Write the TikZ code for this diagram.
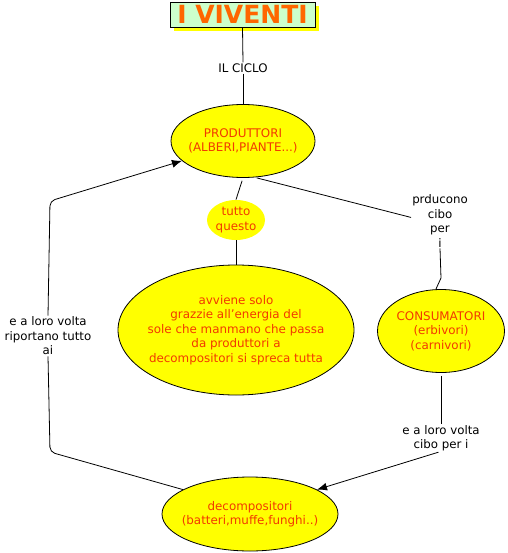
\documentclass[tikz,border=0pt]{standalone}
\usepackage{fontspec}
\setmainfont{DejaVu Sans}
\usetikzlibrary{arrows.meta,shapes.geometric}
\definecolor{ytxt}{HTML}{F23A00}
\definecolor{ttxt}{HTML}{FF6600}
\definecolor{tfill}{HTML}{CCFFCC}
\definecolor{yfill}{HTML}{FFFF00}
\tikzset{
  ell/.style={ellipse,draw=black,line width=0.8pt,fill=yfill,text=ytxt,align=center,inner ysep=0pt,inner xsep=-14pt,font=\fontsize{11.9}{14.5}\selectfont},
  lbl/.style={align=center,inner sep=1pt,font=\fontsize{11.8}{14.5}\selectfont},
  conn/.style={draw=black,line width=0.8pt},
  arr/.style={conn,-{Latex[length=10pt,width=8pt]}}
}
\begin{document}
\begin{tikzpicture}[x=1pt,y=-1pt]
\useasboundingbox (0,0) rectangle (507,553);
% title
\fill[yfill] (174,6) rectangle (319,31);
\node[draw=black,line width=0.8pt,fill=tfill,text=ttxt,minimum width=145pt,minimum height=25pt,inner sep=0pt,font=\fontsize{25}{27}\bfseries\selectfont] (t) at (242.5,14.5) {I VIVENTI};
% nodes
\node[lbl] (ciclo) at (243,68) {IL CICLO};
\node[ell,minimum width=144pt,minimum height=73pt] (prod) at (243,141) {PRODUTTORI\\(ALBERI,PIANTE...)};
\node[ell,draw=none,minimum width=58pt,minimum height=40pt] (tutto) at (236,220) {tutto\\questo};
\node[ell,minimum width=236pt,minimum height=130pt] (big) at (236,330) {avviene solo\\grazzie all'energia del\\sole che manmano che passa\\da produttori a\\decompositori si spreca tutta};
\node[lbl] (prd) at (440,221) {prducono\\cibo\\per\\i};
\node[ell,minimum width=127pt,minimum height=83pt] (cons) at (441,331) {CONSUMATORI\\(erbivori)\\(carnivori)};
\node[lbl] (ealv) at (441,438) {e a loro volta\\cibo per i};
\node[ell,minimum width=176pt,minimum height=74pt] (dec) at (250,514) {decompositori\\(batteri,muffe,funghi..)};
\node[lbl] (rip) at (48,336) {e a loro volta\\riportano tutto\\ai};
% corners
\coordinate (c1) at (441,278);
\coordinate (l1) at (50,452);
\coordinate (l2) at (50,201);
% connectors
\draw[conn] (t.south) -- (ciclo.north);
\draw[conn] (ciclo.south) -- (prod.north);
\draw[conn,shorten <=3pt] (prod.south) -- (tutto.north);
\draw[conn] (tutto.south) -- (big.north);
\draw[conn,shorten <=2pt] (prod.-72) -- (prd.173);
\draw[conn] (prd.south) -- (c1) -- (cons.97);
\draw[conn,shorten <=3pt] (cons.south) -- (ealv.north);
\draw[arr] (ealv.-100) -- (dec.20);
\draw[conn,rounded corners=5pt] (dec.160) -- (l1) -- (rip.south);
\draw[arr,rounded corners=5pt] (rip.north) -- (l2) -- (prod.198);
\end{tikzpicture}
\end{document}
